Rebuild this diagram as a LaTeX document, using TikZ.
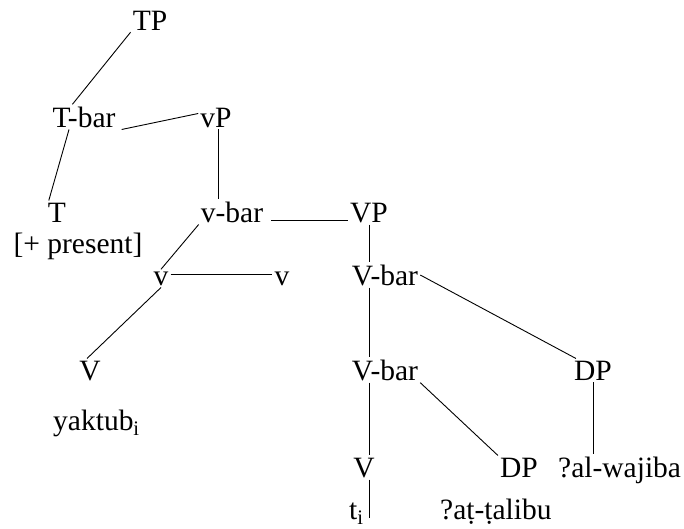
\documentclass[tikz,border=0pt]{standalone}
\usepackage{fontspec}
\setmainfont{Liberation Serif}
\usepackage{tikz}

\tikzset{
	cat/.style={anchor=base, inner sep=2pt, font=\fontsize{29.5}{35}\selectfont},
	word/.style={cat, anchor=base west},
	branch/.style={line width=0.9pt}
}

\begin{document}
\begin{tikzpicture}[x=1pt,y=-1pt]
	\useasboundingbox (0,0) rectangle (684,528);
	%\draw[help lines] (0,0) grid[step=50] (684,528);
	\node[cat] (TP) at (150,30) {TP};
	\node[cat] (Tbar) at (84,127) {T-bar};
	\node[cat] (vP) at (216,127) {vP};
	\node[cat] (T) at (57,222) {T};
	\node[cat] (pres) at (78,253) {[+ present]};
	\node[cat] (vbar) at (232,222) {v-bar};
	\node[cat] (VP) at (369,222) {VP};
	\node[cat] (vl) at (161,285) {v};
	\node[cat] (vr) at (282,285) {v};
	\node[cat] (Vbar1) at (385,285) {V-bar};
	\node[cat] (Vl) at (90,380) {V};
	\node[word] (yaktub) at (51,430) {yaktub\textsubscript{i}};
	\node[cat] (Vbar2) at (385,380) {V-bar};
	\node[cat] (DPr) at (593,380) {DP};
	\node[cat] (Vb) at (364,477) {V};
	\node[cat] (DPm) at (519,477) {DP};
	\node[word] (wajiba) at (556,477) {?al-wajiba};
	\node[word] (ti) at (347,519) {t\textsubscript{i}};
	\node[word] (talibu) at (438,519) {?aṭ-ṭalibu};

	% branches
	\draw[branch] (TP.south west) -- ([xshift=22pt]Tbar.north west);
	\draw[branch] ([xshift=4pt]Tbar.south east) -- ([yshift=4pt]vP.west);
	\draw[branch] ([xshift=-15pt]Tbar.south) -- ([xshift=3pt]T.north west);
	\draw[branch] ([xshift=2pt]vP.south) -- ([xshift=2pt]vP.south |- vbar.north);
	\draw[branch] ([xshift=6pt,yshift=2pt]vbar.base east) -- ([yshift=2pt]VP.base west);
	\draw[branch] (vbar.south west) -- (vl.north);
	\draw[branch] ([yshift=4pt]vl.east) -- ([yshift=4pt]vr.west);
	\draw[branch] (vl.south) -- ([xshift=-3pt]Vl.north);
	\draw[branch] (VP.south) -- (VP.south |- Vbar1.north);
	\draw[branch] (Vbar1.east) -- ([xshift=4pt]DPr.north west);
	\draw[branch] (VP.south |- Vbar1.south) -- (VP.south |- Vbar2.north);
	\draw[branch] (Vbar2.south east) -- (DPm.north west);
	\draw[branch] (VP.south |- Vbar2.south) -- (VP.south |- Vb.north);
	\draw[branch] (DPr.south) -- (DPr.south |- wajiba.north);
	\draw[branch] (VP.south |- Vb.south) -- ([yshift=1pt]VP.south |- ti.base);
\end{tikzpicture}
\end{document}
